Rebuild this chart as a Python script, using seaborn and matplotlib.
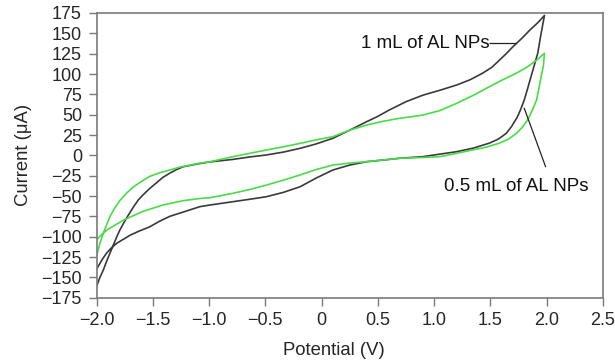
import numpy as np
import pandas as pd
import matplotlib
matplotlib.use("Agg")
import matplotlib.pyplot as plt
import seaborn as sns

# 1 mL of AL NPs (dark curve): forward sweep -2 -> 2 V, then reverse 2 -> -2 V
v_1ml = [-2.00, -1.97, -1.94, -1.91, -1.88, -1.85, -1.82, -1.79, -1.76, -1.72, -1.67, -1.63, -1.59,
         -1.53, -1.47, -1.41, -1.35, -1.29, -1.23, -1.10, -0.99, -0.79, -0.64, -0.49, -0.34, -0.19,
         -0.05, 0.10, 0.25, 0.40, 0.50, 0.60, 0.75, 0.90, 1.05, 1.20, 1.32, 1.43, 1.51, 1.58, 1.64,
         1.70, 1.78, 1.85, 1.92, 1.98,
         1.95, 1.92, 1.89, 1.86, 1.83, 1.80, 1.77, 1.74, 1.69, 1.64, 1.57, 1.49, 1.35, 1.20, 1.05,
         0.90, 0.69, 0.60, 0.40, 0.25, 0.10, -0.05, -0.19, -0.34, -0.49, -0.64, -0.79, -0.99, -1.08,
         -1.17, -1.26, -1.35, -1.44, -1.53, -1.62, -1.70, -1.76, -1.82, -1.87, -1.91, -1.95, -2.00]
i_1ml = [-161, -150, -141, -130, -120, -110, -100, -91, -83.5, -74, -63, -55, -49,
         -41, -34, -27, -22, -17.5, -14, -10.5, -8, -5, -2, 0.5, 4, 8.7,
         14, 21, 31, 41.4, 48, 55.7, 66, 74, 80, 86.5, 93, 101, 108, 117, 125,
         133.6, 144, 154, 163, 172,
         150, 125.5, 111, 96.7, 82, 68, 57, 47.5, 36, 27, 20, 15, 9, 4.5, 1.5,
         -1.6, -3.6, -5, -7.8, -11.9, -18, -28, -38.5, -45.5, -50.8, -54, -57, -61, -63,
         -67, -71, -75, -81, -88, -93, -98, -103, -108, -114, -120, -128, -140]

# 0.5 mL of AL NPs (green curve)
v_05ml = [-2.00, -1.97, -1.94, -1.91, -1.88, -1.84, -1.79, -1.73, -1.67, -1.60, -1.53, -1.44, -1.35,
          -1.26, -1.17, -1.08, -0.99, -0.79, -0.64, -0.49, -0.34, -0.19, -0.05, 0.10, 0.25, 0.40,
          0.55, 0.69, 0.80, 0.90, 1.05, 1.20, 1.35, 1.49, 1.61, 1.73, 1.82, 1.91, 1.98,
          1.97, 1.95, 1.93, 1.91, 1.87, 1.83, 1.78, 1.73, 1.66, 1.58, 1.46, 1.34, 1.20, 1.05, 0.90,
          0.69, 0.40, 0.25, 0.10, -0.05, -0.19, -0.34, -0.49, -0.64, -0.79, -0.99, -1.08, -1.23,
          -1.41, -1.59, -1.76, -1.85, -1.91, -1.96, -2.00]
i_05ml = [-124, -108, -96, -85, -75, -65, -55, -46, -38.5, -32, -26, -21.5, -18,
          -14.5, -12, -9.5, -7.8, -1.6, 2.5, 6.6, 10.5, 14.8, 19, 23, 31, 37.3,
          42, 45.5, 47.5, 49.6, 55, 64, 74, 84.4, 93, 101, 108, 117, 125.5,
          110, 96.7, 82, 68, 55, 43.5, 34, 27, 20, 15, 10, 6.6, 2.5, -1.6, -2.6,
          -3.6, -7.8, -9.5, -11.9, -17.5, -24, -30.5, -36.5, -42, -46.7, -52, -53, -55.7,
          -61, -69, -79.5, -87, -92, -98, -104]

x_ticks = [-2.0, -1.5, -1.0, -0.5, 0, 0.5, 1.0, 1.5, 2.0, 2.5]
x_labels = ["\u22122.0", "\u22121.5", "\u22121.0", "\u22120.5", "0", "0.5", "1.0", "1.5", "2.0", "2.5"]
y_ticks = list(range(-175, 176, 25))

sns.set_style("white")
plt.rcParams["font.family"] = ["Liberation Sans", "DejaVu Sans"]

fig = plt.figure(figsize=(6.15, 3.61), dpi=100)
ax = fig.add_axes([0.157, 0.1753, 0.8235, 0.7887])

sns.lineplot(x=v_1ml, y=i_1ml, sort=False, estimator=None, color="#3a3a3a", linewidth=1.2, ax=ax)
sns.lineplot(x=v_05ml, y=i_05ml, sort=False, estimator=None, color="#48dc48", linewidth=1.2, ax=ax)

ax.set_xlim(-2.0, 2.5)
ax.set_ylim(-175, 175)
ax.set_xticks(x_ticks)
ax.set_xticklabels(x_labels)
ax.set_yticks(y_ticks)
ax.set_yticklabels([str(t).replace("-", "\u2212") for t in y_ticks])

for s in ax.spines.values():
    s.set_color("#7a7a7a")
    s.set_linewidth(1.2)
ax.tick_params(axis="both", which="both", direction="out", length=5.5, width=1.0,
               color="#7a7a7a", labelsize=13, left=True, bottom=True)
ax.tick_params(axis="y", pad=5)
ax.tick_params(axis="x", pad=4.5)

ax.set_xlabel("Potential (V)", fontsize=13.3)
ax.set_ylabel("Current (\u03bcA)", fontsize=13.3)
ax.xaxis.set_label_coords(0.469, -0.155)
ax.yaxis.set_label_coords(-0.128, 0.5)

ax.text(1.495, 137.5, "1 mL of AL NPs", ha="right", va="center", fontsize=13.5, color="#111111")
ax.annotate("", xy=(1.73, 137.5), xytext=(1.495, 137.5),
            arrowprops=dict(arrowstyle="-", color="#222222", lw=0.9, shrinkA=0, shrinkB=0))
ax.text(1.725, -38, "0.5 mL of AL NPs", ha="center", va="center", fontsize=13.5, color="#111111")
ax.annotate("", xy=(1.80, 58), xytext=(1.99, -14),
            arrowprops=dict(arrowstyle="-", color="#222222", lw=0.9, shrinkA=0, shrinkB=0))

fig.savefig("out.png", dpi=100)
